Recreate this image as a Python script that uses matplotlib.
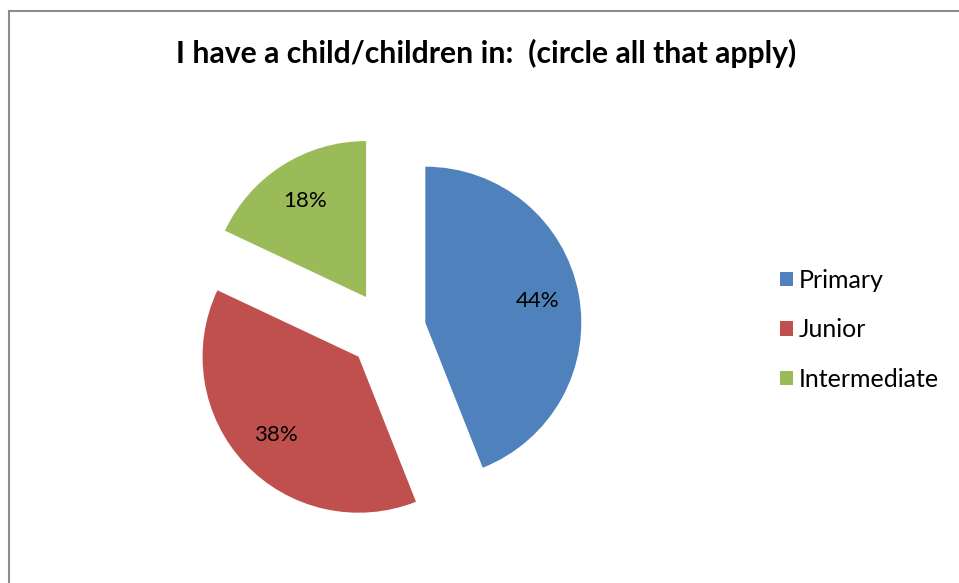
import matplotlib.pyplot as plt
from matplotlib.lines import Line2D

plt.rcParams["font.family"] = ["Lato", "DejaVu Sans"]

# survey answers
categories = ["Primary", "Junior", "Intermediate"]
shares = [44, 38, 18]
colors = ["#4F81BD", "#C0504D", "#9BBB59"]
title = "I have a child/children in:  (circle all that apply)"

fig = plt.figure(figsize=(9.59, 5.83), dpi=100)
ax = fig.add_axes([0, 0, 1, 1])

wedges, texts, autotexts = ax.pie(
    shares,
    colors=colors,
    startangle=90,
    counterclock=False,
    radius=156,
    center=(387, 253),
    explode=[39] * len(shares),
    autopct="%1.0f%%",
    pctdistance=0.73,
    textprops={"fontsize": 16, "color": "black"},
    frame=True,
)
ax.set_xlim(0, 959)
ax.set_ylim(0, 583)
ax.set_aspect("equal")
ax.axis("off")

fig.text(0.507, 0.909, title, ha="center", va="center",
         fontsize=21.7, fontweight="bold")

ax.legend(wedges, categories, loc="center left",
          bbox_to_anchor=(0.8005, 0.434), frameon=False, borderpad=0,
          fontsize=18, handlelength=0.5, handleheight=0.5,
          handletextpad=0.25, labelspacing=1.05)

# chart frame (top and left edges only are inside the image)
fig.add_artist(Line2D([8.5 / 959, 8.5 / 959], [0, 1 - 11 / 583],
                      color="#8c8c8c", lw=1.5))
fig.add_artist(Line2D([8.5 / 959, 1], [1 - 11 / 583, 1 - 11 / 583],
                      color="#8c8c8c", lw=1.5))

fig.savefig("out.png", dpi=100)
